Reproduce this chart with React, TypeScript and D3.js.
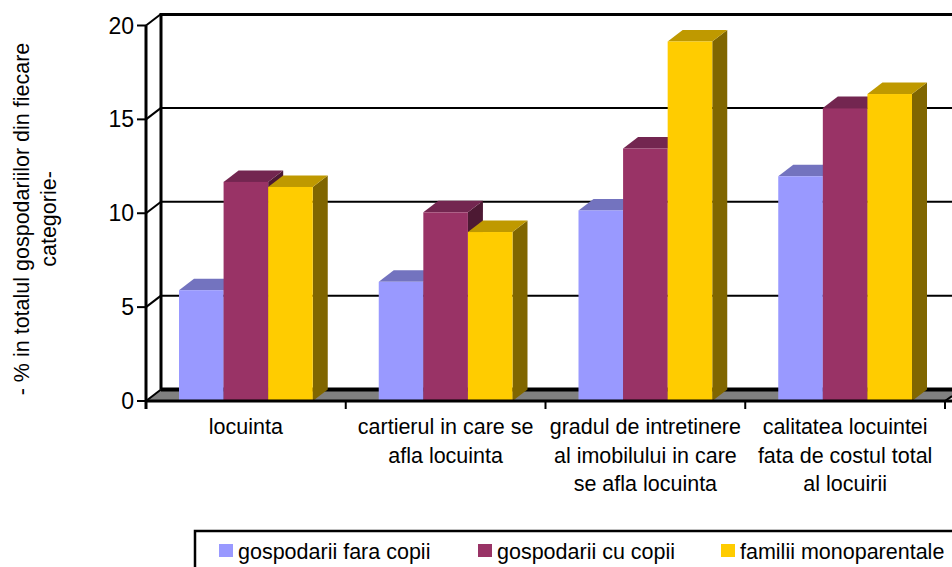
import React from "react";
import * as d3 from "d3";

const categories = ["locuinta", "cartierul in care se afla locuinta", "gradul de intretinere al imobilului in care se afla locuinta", "calitatea locuintei fata de costul total al locuirii"];
const categoryLines = [
  ["locuinta"],
  ["cartierul in care se", "afla locuinta"],
  ["gradul de intretinere", "al imobilului in care", "se afla locuinta"],
  ["calitatea locuintei", "fata de costul total", "al locuirii"],
];
const seriesNames = ["gospodarii fara copii", "gospodarii cu copii", "familii monoparentale"];
const fara = [5.9, 6.35, 10.15, 11.97];
const cu = [11.67, 10.05, 13.45, 15.6];
const mono = [11.4, 9.0, 19.15, 16.35];
const seriesValues = [fara, cu, mono];
const faceColors = ["#9999FF", "#993366", "#FFCC00"];
const topColors = ["#7373BF", "#732650", "#BF9900"];
const sideColors = ["#4D4D80", "#4D1933", "#806600"];
const yTicks = [0, 5, 10, 15, 20];
const yTitle = ["- % in totalul gospodariilor din fiecare", "categorie-"];
const legendX = [219, 478, 721];

const W = 952, H = 567;
const dx = 15, dy = -11.5;
const font = "'Liberation Sans', Arial, sans-serif";

export default function App() {
  const y = d3.scaleLinear().domain([0, 20]).range([401, 25.5]);
  const x0 = d3.scaleBand().domain(categories).range([146, 945]);
  const bw = x0.bandwidth();
  const x1 = d3.scaleBand().domain(seriesNames).range([33, bw - 33]);
  const bars = categories.flatMap((c, i) =>
    seriesNames.map((s, j) => {
      const x = x0(c)! + x1(s)!;
      return { key: c + s, j, x, w: x1.bandwidth(), top: y(seriesValues[j][i]), bot: y(0) };
    })
  );
  const line = d3.line();
  const poly = (p: [number, number][]) => line(p)! + "Z";
  return (
    <svg width={W} height={H} style={{ position: "absolute", left: 0, top: 0, background: "#fff" }} fontFamily={font}>
      <path d={poly([[146, y(0)], [146 + dx, y(0) + dy], [W + 20, y(0) + dy], [945, y(0)]])} fill="#808080" />
      {yTicks.slice(1, 4).map((t) => (
        <line key={t} x1={146 + dx} x2={W} y1={y(t) + dy} y2={y(t) + dy} stroke="#000" strokeWidth={2} />
      ))}
      <line x1={146 + dx} x2={W} y1={14.5} y2={14.5} stroke="#000" strokeWidth={3} />
      <line x1={146 + dx} x2={W} y1={y(0) + dy} y2={y(0) + dy} stroke="#000" strokeWidth={4} />
      <line x1={146 + dx} x2={146 + dx} y1={13} y2={y(0) + dy} stroke="#000" strokeWidth={3} />
      {yTicks.map((t) => (
        <g key={t}>
          <line x1={146} x2={146 + dx} y1={y(t)} y2={y(t) + dy} stroke="#000" strokeWidth={2} />
          <line x1={137} x2={146} y1={y(t)} y2={y(t)} stroke="#000" strokeWidth={2} />
          <text x={134} y={y(t) + 8} textAnchor="end" fontSize={23} fill="#000">{t}</text>
        </g>
      ))}
      {bars.map((b) => (
        <g key={b.key}>
          <path d={poly([[b.x + b.w, b.top], [b.x + b.w + dx, b.top + dy], [b.x + b.w + dx, b.bot + dy], [b.x + b.w, b.bot]])} fill={sideColors[b.j]} />
          <path d={poly([[b.x, b.top], [b.x + dx, b.top + dy], [b.x + b.w + dx, b.top + dy], [b.x + b.w, b.top]])} fill={topColors[b.j]} />
          <rect x={b.x} y={b.top} width={b.w} height={b.bot - b.top} fill={faceColors[b.j]} />
        </g>
      ))}
      <line x1={146} x2={W} y1={y(0)} y2={y(0)} stroke="#000" strokeWidth={3} />
      <line x1={146} x2={146} y1={y(20)} y2={409} stroke="#000" strokeWidth={3} />
      <line x1={945} x2={952} y1={y(0)} y2={y(0) - 5} stroke="#000" strokeWidth={2} />
      {[...categories.map((c) => x0(c)!), 945].map((t, i) => (
        <line key={i} x1={t} x2={t} y1={y(0)} y2={409} stroke="#000" strokeWidth={2} />
      ))}
      {categories.map((c, i) =>
        categoryLines[i].map((l, k) => (
          <text key={k} x={x0(c)! + bw / 2} y={434 + k * 28.5} textAnchor="middle" fontSize={21.5} fill="#000">{l}</text>
        ))
      )}
      {yTitle.map((l, k) => (
        <text key={k} transform={`translate(${29 + k * 26.5},219) rotate(-90)`} textAnchor="middle" fontSize={21.5} fill="#000">{l}</text>
      ))}
      <rect x={195} y={531} width={W} height={H} fill="#fff" stroke="#000" strokeWidth={2.5} />
      {seriesNames.map((s, j) => (
        <g key={s}>
          <rect x={legendX[j]} y={544} width={14} height={13} fill={faceColors[j]} />
          <text x={legendX[j] + 19} y={558.5} fontSize={21.5} fill="#000">{s}</text>
        </g>
      ))}
    </svg>
  );
}
